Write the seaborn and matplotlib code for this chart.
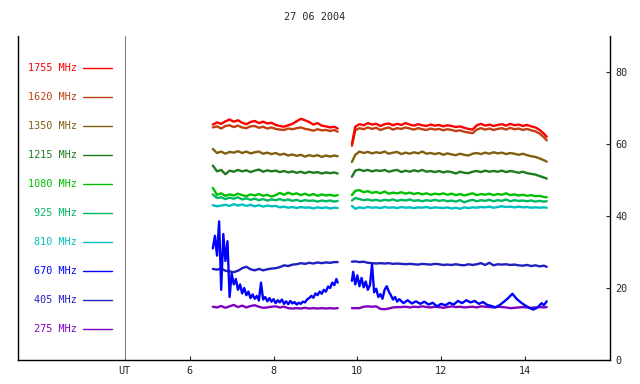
import numpy as np
import pandas as pd
import matplotlib
matplotlib.use("Agg")
import matplotlib.pyplot as plt
import seaborn as sns

# frequencies and colours (legend order, top to bottom)
freqs = ["1755", "1620", "1350", "1215", "1080", "925", "810", "670", "405", "275"]
colors = ["#ff0000", "#c04010", "#806010", "#207a20", "#00c000",
          "#00b860", "#00c0c0", "#0000ff", "#2020c0", "#8000c0"]

# common sample times (UT hours) for the two observing segments
t1 = [6.55, 6.65, 6.75, 6.85, 6.95, 7.05, 7.15, 7.25, 7.35, 7.45,
      7.55, 7.65, 7.75, 7.85, 7.95, 8.05, 8.15, 8.25, 8.35, 8.45,
      8.55, 8.65, 8.75, 8.85, 8.95, 9.05, 9.15, 9.25, 9.35, 9.45,
      9.53]
t2 = [9.87, 9.95,
      10.05, 10.15, 10.25, 10.35, 10.45, 10.55, 10.65, 10.75, 10.85, 10.95,
      11.05, 11.15, 11.25, 11.35, 11.45, 11.55, 11.65, 11.75, 11.85, 11.95,
      12.05, 12.15, 12.25, 12.35, 12.45, 12.55, 12.65, 12.75, 12.85, 12.95,
      13.05, 13.15, 13.25, 13.35, 13.45, 13.55, 13.65, 13.75, 13.85, 13.95,
      14.05, 14.15, 14.25, 14.35, 14.45, 14.52]

f1755_a = [65.4, 66.0, 65.6, 66.3, 66.8, 66.2, 66.6, 65.9, 65.5, 66.1,
           66.4, 65.8, 66.2, 65.7, 65.9, 65.3, 65.0, 64.8, 65.2, 65.6,
           66.3, 67.0, 66.6, 66.1, 65.4, 65.8, 65.1, 64.9, 64.6, 64.8,
           64.3]
f1755_b = [60.0, 64.8,
           65.5, 65.2, 65.8, 65.4, 65.6, 65.0, 65.5, 65.7, 65.2, 65.6,
           65.3, 65.8, 65.4, 65.1, 65.5, 65.2, 65.0, 65.4, 65.1, 65.3,
           64.9, 65.2, 65.0, 64.7, 64.9, 64.5, 64.2, 64.0, 65.2, 65.6,
           65.1, 65.4, 65.0, 65.3, 65.5, 65.1, 65.6, 65.2, 65.4, 65.0,
           65.3, 64.9, 64.6, 63.9, 62.9, 62.0]

f1620_a = [64.6, 64.9, 64.3, 65.0, 65.2, 64.7, 65.1, 64.6, 64.4, 64.9,
           65.0, 64.5, 64.8, 64.3, 64.6, 64.2, 64.0, 63.9, 64.3, 64.1,
           64.4, 64.6, 64.2, 64.0, 63.7, 64.1, 63.8, 63.9, 63.6, 63.9,
           63.4]
f1620_b = [59.5, 63.8,
           64.4, 64.1, 64.6, 64.2, 64.5, 63.9, 64.3, 64.6, 64.0, 64.4,
           64.2, 64.6, 64.3, 64.0, 64.4, 64.1, 63.9, 64.3, 64.0, 64.2,
           63.8, 64.1, 63.9, 63.6, 63.8, 63.4, 63.2, 63.0, 64.0, 64.4,
           64.0, 64.3, 63.9, 64.2, 64.4, 64.0, 64.5, 64.1, 64.3, 63.9,
           64.2, 63.8, 63.5, 62.9, 61.9, 61.0]

f1350_a = [58.6, 57.5, 57.9, 57.3, 57.8, 57.6, 58.0, 57.5, 57.9, 57.4,
           57.7, 57.9, 57.3, 57.6, 57.2, 57.5, 57.0, 57.3, 56.8, 57.1,
           56.7, 57.0, 56.5, 56.9, 56.6, 56.9, 56.4, 56.8, 56.5, 56.8,
           56.6]
f1350_b = [55.0, 57.0,
           57.9, 57.5, 57.8, 57.4, 57.7, 57.5, 57.9, 57.3, 57.6, 57.8,
           57.2, 57.6, 57.3, 57.7, 57.4, 57.9, 57.3, 57.5, 57.2, 57.5,
           57.0, 57.4, 57.1, 56.9, 57.3, 57.0, 56.8, 57.3, 57.5, 57.2,
           57.6, 57.3, 57.7, 57.4, 57.6, 57.2, 57.5, 57.3, 57.0, 57.3,
           56.9, 56.6, 56.4, 56.0, 55.5, 55.1]

f1215_a = [54.0, 52.4, 52.8, 51.6, 52.6, 52.3, 52.8, 52.4, 52.7, 52.2,
           52.6, 52.9, 52.3, 52.7, 52.4, 52.6, 52.2, 52.5, 52.1, 52.4,
           52.0, 52.3, 51.9, 52.3, 52.0, 52.2, 51.8, 52.1, 51.9, 52.1,
           51.8]
f1215_b = [50.9, 52.6,
           52.9, 52.5, 52.8, 52.4, 52.7, 52.5, 52.8, 52.3, 52.6, 52.8,
           52.2, 52.6, 52.3, 52.7, 52.4, 52.8, 52.3, 52.5, 52.2, 52.5,
           52.1, 52.4, 52.2, 51.8, 52.3, 52.0, 51.9, 52.3, 52.5, 52.2,
           52.6, 52.3, 52.5, 52.3, 52.6, 52.2, 52.5, 52.3, 52.0, 52.3,
           51.9, 51.7, 51.5, 51.1, 50.7, 50.4]

f1080_a = [47.8, 45.9, 46.3, 45.6, 46.0, 45.7, 46.2, 45.8, 45.5, 46.0,
           45.7, 46.1, 45.6, 45.9, 45.4, 45.8, 46.4, 45.9, 46.5, 46.0,
           46.3, 45.8, 46.2, 45.7, 46.1, 45.6, 46.0, 45.7, 45.9, 45.6,
           45.8]
f1080_b = [45.8, 47.0,
           47.2, 46.6, 46.9, 46.4, 46.7, 46.3, 46.8, 46.2, 46.5, 46.3,
           46.6, 46.2, 46.5, 46.1, 46.4, 46.0, 46.3, 45.9, 46.2, 46.0,
           46.3, 45.9, 46.2, 45.8, 46.1, 45.7, 46.0, 46.3, 45.8, 46.1,
           45.9, 46.2, 45.8, 46.1, 45.9, 46.3, 45.8, 46.0, 45.7, 45.9,
           45.6, 45.8, 45.5, 45.6, 45.3, 45.2]

f925_a = [46.0, 45.0, 45.2, 44.7, 45.1, 44.8, 45.2, 44.6, 44.9, 44.5,
          44.8, 44.4, 44.7, 44.3, 44.6, 44.4, 44.7, 44.3, 44.6, 44.2,
          44.5, 44.1, 44.4, 44.2, 44.3, 44.0, 44.3, 44.1, 44.3, 44.0,
          44.2]
f925_b = [44.3, 45.0,
          44.7, 44.4, 44.6, 44.3, 44.5, 44.2, 44.5, 44.3, 44.6, 44.2,
          44.5, 44.3, 44.6, 44.2, 44.4, 44.1, 44.4, 44.2, 44.5, 44.2,
          44.4, 44.1, 44.3, 44.0, 44.4, 43.8, 44.2, 44.5, 44.1, 44.4,
          44.2, 44.5, 44.1, 44.4, 44.2, 44.6, 44.1, 44.4, 44.2, 44.3,
          44.1, 44.3, 44.0, 44.2, 44.0, 44.1]

f810_a = [43.0, 42.7, 42.9, 43.1, 42.8, 43.3, 42.9, 43.2, 42.8, 43.1,
          42.7, 43.0, 42.6, 42.9, 42.7, 42.8, 42.4, 42.6, 42.3, 42.5,
          42.2, 42.5, 42.3, 42.4, 42.1, 42.4, 42.2, 42.4, 42.1, 42.3,
          42.2]
f810_b = [42.8, 42.0,
          42.4, 42.2, 42.5, 42.3, 42.4, 42.2, 42.5, 42.3, 42.4, 42.2,
          42.5, 42.3, 42.4, 42.2, 42.4, 42.3, 42.5, 42.2, 42.4, 42.3,
          42.2, 42.4, 42.1, 42.3, 42.0, 42.4, 42.2, 42.4, 42.3, 42.5,
          42.4, 42.6, 42.3, 42.5, 42.7, 42.5, 42.6, 42.4, 42.6, 42.4,
          42.5, 42.3, 42.4, 42.3, 42.4, 42.3]

f405_a = [25.3, 25.1, 25.4, 24.8, 24.6, 24.4, 24.8, 25.5, 25.9, 25.2,
          24.9, 25.3, 24.9, 25.2, 25.4, 25.5, 25.8, 26.3, 26.1, 26.5,
          26.6, 26.9, 26.7, 27.0, 26.8, 27.1, 26.9, 27.1, 27.0, 27.2,
          27.2]
f405_b = [27.3, 27.4,
          27.2, 27.3, 27.0, 26.9, 26.8, 26.9, 26.8, 26.9, 26.7, 26.8,
          26.7, 26.6, 26.7, 26.6, 26.5, 26.7, 26.6, 26.5, 26.7, 26.6,
          26.4, 26.5, 26.4, 26.6, 26.4, 26.3, 26.6, 26.4, 26.6, 26.9,
          26.4, 27.0, 26.3, 26.6, 26.5, 26.6, 26.4, 26.5, 26.3, 26.2,
          26.4, 26.1, 26.3, 26.0, 26.2, 25.9]

f275_a = [14.8, 14.6, 15.0, 14.5, 14.9, 15.3, 14.7, 15.1, 14.6, 15.0,
          15.2, 14.8, 14.5, 14.6, 14.8, 14.9, 14.6, 14.8, 14.4, 14.3,
          14.4, 14.3, 14.5, 14.3, 14.4, 14.3, 14.4, 14.3, 14.4, 14.3,
          14.4]
f275_b = [14.4, 14.4,
          14.4, 14.8, 14.9, 14.8, 14.9, 14.2, 14.1, 14.3, 14.6, 14.7,
          14.7, 14.8, 14.6, 14.8, 14.7, 14.9, 14.7, 14.6, 14.8, 14.7,
          14.5, 14.7, 14.9, 14.7, 14.8, 14.6, 14.7, 14.8, 14.6, 14.9,
          14.8, 14.7, 14.6, 14.8, 14.7, 14.6, 14.4, 14.5, 14.6, 14.7,
          14.6, 14.5, 14.6, 14.7, 14.6, 14.7]

# 670 MHz is much noisier, sampled finer
t670_a = [6.55, 6.60, 6.65, 6.70, 6.75, 6.80, 6.85, 6.90, 6.95, 7.00,
          7.05, 7.10, 7.15, 7.20, 7.25, 7.30, 7.35, 7.40, 7.45, 7.50,
          7.55, 7.60, 7.65, 7.70, 7.75, 7.80, 7.85, 7.90, 7.95, 8.00,
          8.05, 8.10, 8.15, 8.20, 8.25, 8.30, 8.35, 8.40, 8.45, 8.50,
          8.55, 8.60, 8.65, 8.70, 8.75, 8.80, 8.85, 8.90, 8.95, 9.00,
          9.05, 9.10, 9.15, 9.20, 9.25, 9.30, 9.35, 9.40, 9.45, 9.50,
          9.53]
f670_a = [31.0, 34.5, 29.0, 38.5, 19.5, 35.0, 27.5, 33.0, 17.5, 24.0,
          21.0, 22.5, 19.5, 21.0, 18.5, 20.0, 18.0, 19.0, 17.2, 18.2,
          17.0, 17.8, 16.5, 21.5, 16.8, 17.5, 16.3, 17.2, 16.2, 16.9,
          15.8, 16.6, 16.0, 16.8, 15.6, 16.3, 15.5, 16.4, 15.7, 16.1,
          15.4, 15.9, 15.6, 16.2, 16.0, 16.8, 17.2, 17.8, 17.3, 18.5,
          18.0, 19.0, 18.4, 19.5, 19.0, 20.4, 20.0, 21.5, 20.8, 22.5,
          21.5]
t670_b = [9.87, 9.90, 9.95, 10.00, 10.05, 10.10, 10.15, 10.20, 10.25, 10.30,
          10.35, 10.40, 10.45, 10.50, 10.55, 10.60, 10.65, 10.70, 10.75, 10.80,
          10.85, 10.90, 10.95, 11.00, 11.10, 11.20, 11.30, 11.40, 11.50, 11.60,
          11.70, 11.80, 11.90, 12.00, 12.10, 12.20, 12.30, 12.40, 12.50, 12.60,
          12.70, 12.80, 12.90, 13.00, 13.10, 13.20, 13.30, 13.40, 13.50, 13.60,
          13.70, 13.80, 13.90, 14.00, 14.10, 14.20, 14.30, 14.40, 14.45, 14.52]
f670_b = [22.0, 24.5, 21.0, 23.5, 20.5, 22.8, 20.2, 21.8, 19.5, 20.8,
          26.5, 18.8, 19.8, 17.5, 18.3, 17.0, 19.5, 20.5, 19.0, 18.0,
          16.8, 17.5, 16.2, 16.9, 15.8, 16.6, 15.7, 16.3, 15.6, 16.2,
          15.4, 15.9, 14.9, 15.6, 15.2, 15.9, 15.4, 16.4, 15.8, 16.6,
          16.0, 16.4, 15.6, 16.1, 15.3, 15.0, 14.6, 15.3, 16.2, 17.2,
          18.4, 17.0, 16.0, 15.2, 14.5, 14.0, 14.6, 15.8, 15.2, 16.3]

series = {
    "1755": [(t1, f1755_a), (t2, f1755_b)],
    "1620": [(t1, f1620_a), (t2, f1620_b)],
    "1350": [(t1, f1350_a), (t2, f1350_b)],
    "1215": [(t1, f1215_a), (t2, f1215_b)],
    "1080": [(t1, f1080_a), (t2, f1080_b)],
    "925": [(t1, f925_a), (t2, f925_b)],
    "810": [(t1, f810_a), (t2, f810_b)],
    "670": [(t670_a, f670_a), (t670_b, f670_b)],
    "405": [(t1, f405_a), (t2, f405_b)],
    "275": [(t1, f275_a), (t2, f275_b)],
}

rows = []
for f, segs in series.items():
    for k, (t, v) in enumerate(segs):
        rows.append(pd.DataFrame({"time": t, "flux": v, "freq": f, "seg": k}))
df = pd.concat(rows, ignore_index=True)

sns.set_style("white")
plt.rcParams["font.family"] = ["DejaVu Sans Mono", "DejaVu Sans"]
fs = 7.3

fig = plt.figure(figsize=(6.4, 3.84), dpi=100)
ax = fig.add_axes([18 / 640, 24 / 384, 592 / 640, 324 / 384])

palette = dict(zip(freqs, colors))
sns.lineplot(data=df, x="time", y="flux", hue="freq", units="seg",
             estimator=None, sort=False, palette=palette,
             hue_order=freqs[::-1], linewidth=1.7, legend=False, ax=ax)

ax.set_xlim(1.9, 16.03)
ax.set_ylim(0, 90)
ax.set_xlabel("")
ax.set_ylabel("")

for s in ["left", "bottom", "right"]:
    ax.spines[s].set_visible(True)
    ax.spines[s].set_color("black")
    ax.spines[s].set_linewidth(1.0)
ax.spines["top"].set_visible(False)

ax.set_xticks([6, 8, 10, 12, 14])
ax.set_xticklabels(["6", "8", "10", "12", "14"])
ax.yaxis.tick_right()
ax.set_yticks([0, 20, 40, 60, 80])
ax.tick_params(axis="x", direction="in", length=3, width=0.8, pad=4,
               labelsize=fs, bottom=True)
ax.tick_params(axis="y", direction="in", length=3, width=0.8, pad=4,
               labelsize=fs, right=True, left=False)

# UT separator
ut_x = 4.45
ax.axvline(ut_x, color="#808080", lw=0.8)
ax.text(ut_x, -0.034, "UT", transform=ax.get_xaxis_transform(),
        ha="center", va="center", fontsize=fs)

# legend on the left
for i, (f, c) in enumerate(zip(freqs, colors)):
    yy = 0.901 - i * 0.0896
    ax.text(0.0997, yy, f"{f} MHz", color=c, fontsize=fs,
            ha="right", va="center", transform=ax.transAxes)
    ax.plot([0.1098, 0.1588], [yy, yy], color=c, lw=1.0,
            transform=ax.transAxes)

fig.text(0.492, 1 - 17 / 384, "27 06 2004", ha="center", va="center",
         fontsize=fs)

fig.savefig("out.png", dpi=100)
